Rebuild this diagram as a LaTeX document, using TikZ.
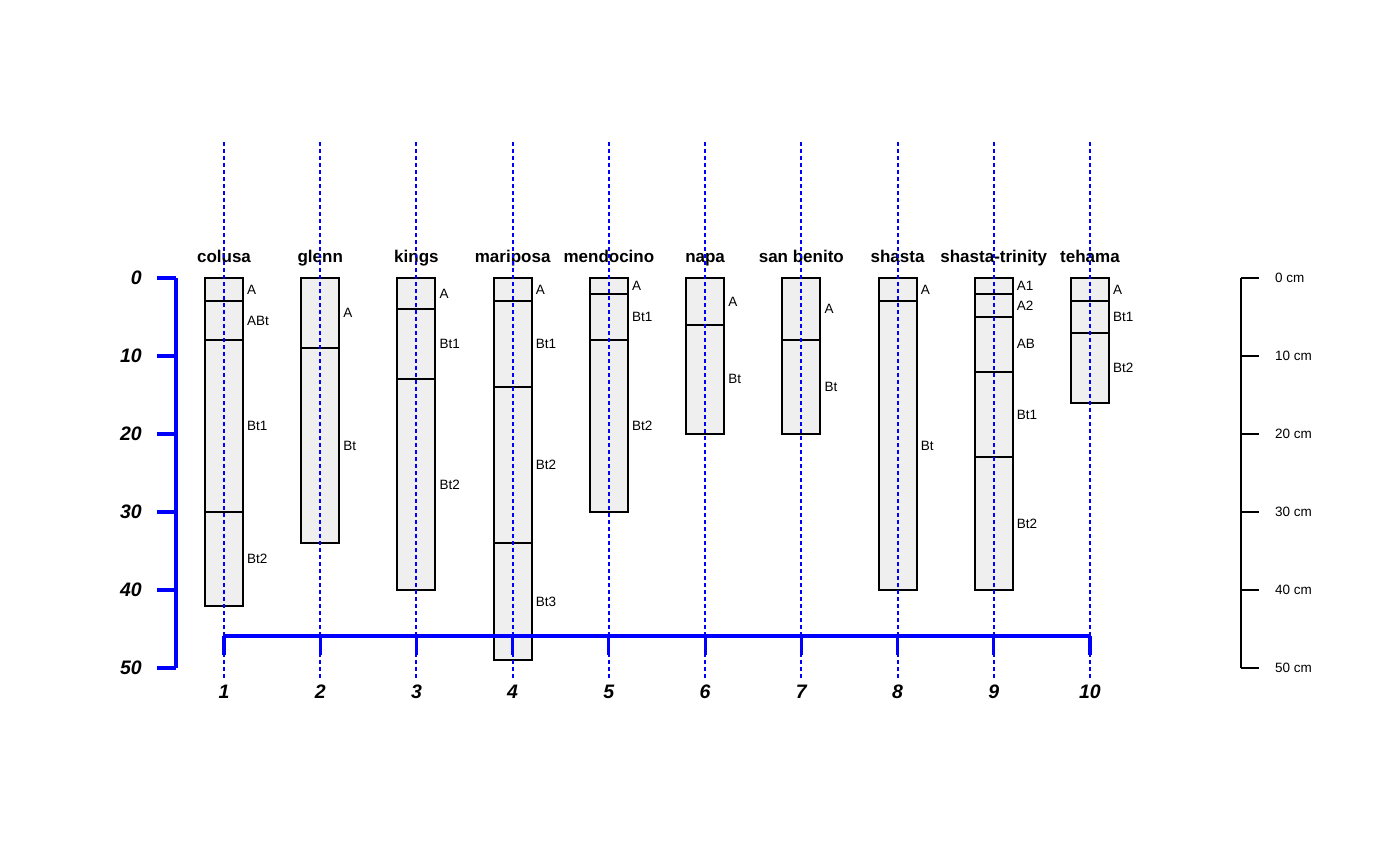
\documentclass[tikz,border=0pt]{standalone}
\usepackage{fontspec}
\setmainfont{Liberation Sans}

\definecolor{hzfill}{RGB}{239,239,239}

\tikzset{
  hzbox/.style={draw=black, fill=hzfill, line width=2pt},
  hzlabel/.style={anchor=west, inner sep=0pt, font=\fontsize{13.5}{15}\selectfont},
  proftitle/.style={anchor=base, inner sep=0pt, font=\fontsize{17}{19}\selectfont\bfseries},
  guide/.style={blue, line width=2pt, dash pattern=on 3.5pt off 3.5pt},
  bluebar/.style={blue, line width=3.2pt},
  axisnum/.style={inner sep=0pt, font=\fontsize{19.5}{21}\selectfont\bfseries\itshape},
  cmlabel/.style={anchor=west, inner sep=0pt, font=\fontsize{13.5}{15}\selectfont}
}

\begin{document}
\begin{tikzpicture}[x=1pt, y=-1pt]

  % page is 1400 x 865, depth d (cm) sits at y = 278 + 7.8 d
  \useasboundingbox (0,0) rectangle (1400,865);

  % ---- profiles: horizons as top/bottom/name ----
  \foreach \i/\name/\hz in {
      1/colusa/{0/3/A,3/8/ABt,8/30/Bt1,30/42/Bt2},
      2/glenn/{0/9/A,9/34/Bt},
      3/kings/{0/4/A,4/13/Bt1,13/40/Bt2},
      4/mariposa/{0/3/A,3/14/Bt1,14/34/Bt2,34/49/Bt3},
      5/mendocino/{0/2/A,2/8/Bt1,8/30/Bt2},
      6/napa/{0/6/A,6/20/Bt},
      7/san benito/{0/8/A,8/20/Bt},
      8/shasta/{0/3/A,3/40/Bt},
      9/shasta-trinity/{0/2/A1,2/5/A2,5/12/AB,12/23/Bt1,23/40/Bt2},
      10/tehama/{0/3/A,3/7/Bt1,7/16/Bt2}} {
    \pgfmathsetmacro{\px}{224+(\i-1)*96.22}
    \node[proftitle] (title-\i) at (\px,262) {\name};
    \foreach \t/\b/\h [count=\k] in \hz {
      \draw[hzbox] (\px-19,278+7.8*\t) rectangle (\px+19,278+7.8*\b);
      \node[hzlabel] (hz-\i-\k) at (\px+23,278+3.9*\t+3.9*\b) {\h};
    }
  }

  % ---- dotted guides on top ----
  \foreach \i in {1,...,10} {
    \pgfmathsetmacro{\px}{224+(\i-1)*96.22}
    \coordinate (gtop-\i) at (\px,142);
    \coordinate (gbot-\i) at (\px,680);
    \draw[guide] (gtop-\i) -- (gbot-\i);
  }

  % ---- bottom blue bar with ticks and numbers ----
  \draw[bluebar] (224,636) -- (1090,636);
  \foreach \i in {1,...,10} {
    \pgfmathsetmacro{\px}{224+(\i-1)*96.22}
    \draw[bluebar] (\px,636) -- (\px,655);
    \node[axisnum] (num-\i) at (\px,692) {\i};
  }

  % ---- left depth axis (blue) ----
  \draw[bluebar] (176,278) -- (176,668);
  \foreach \d in {0,10,...,50} {
    \draw[bluebar] (176,278+7.8*\d) -- (157,278+7.8*\d);
    \node[axisnum, anchor=east] (depth-\d) at (142,278+7.8*\d) {\d};
  }

  % ---- right scale in cm ----
  \draw[line width=2pt] (1241,278) -- (1241,668);
  \foreach \d in {0,10,...,50} {
    \draw[line width=2pt] (1241,278+7.8*\d) -- (1259,278+7.8*\d);
    \node[cmlabel] (cm-\d) at (1275,278+7.8*\d) {\d\ cm};
  }

\end{tikzpicture}
\end{document}
